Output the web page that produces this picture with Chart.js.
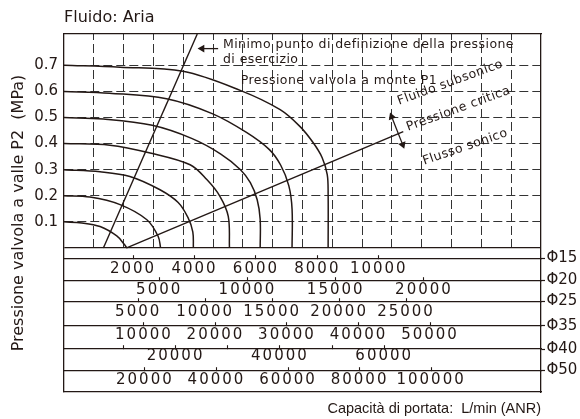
<!DOCTYPE html>
<html>
<head>
<meta charset="utf-8">
<script src="https://cdn.jsdelivr.net/npm/chart.js@4.4.1/dist/chart.umd.min.js"></script>
<style>
  html, body { margin: 0; padding: 0; background: #fff; }
</style>
</head>
<body>
<canvas id="chart" width="580" height="419"></canvas>
<script>
// outlet pressure curves, flow in grid columns (0..16) vs P2 in MPa
const curve01 = [[0, 0.10], [0.6, 0.096], [1.21, 0.082], [1.77, 0.046], [2.02, 0.014], [2.11, 0]];
const curve02 = [[0, 0.20], [0.87, 0.195], [1.88, 0.166], [2.78, 0.108], [3.16, 0.044], [3.24, 0]];
const curve03 = [[0, 0.30], [1.21, 0.292], [2.21, 0.274], [3.22, 0.223], [3.83, 0.174], [4.16, 0.116], [4.32, 0.062], [4.34, 0]];
const curve04 = [[0, 0.40], [1.54, 0.394], [2.89, 0.364], [4.23, 0.319], [4.79, 0.262], [5.23, 0.198], [5.51, 0.121], [5.55, 0]];
const curve05 = [[0, 0.50], [1.32, 0.494], [2.96, 0.470], [4.28, 0.420], [5.26, 0.360], [5.92, 0.300], [6.25, 0.250], [6.48, 0.185], [6.58, 0.110], [6.58, 0]];
const curve06 = [[0, 0.60], [1.53, 0.593], [3.44, 0.572], [4.97, 0.515], [6.12, 0.443], [6.89, 0.377], [7.27, 0.317], [7.54, 0.239], [7.65, 0.149], [7.65, 0]];
const curve07 = [[0, 0.70], [1.88, 0.693], [3.99, 0.677], [5.91, 0.604], [7.25, 0.530], [7.92, 0.465], [8.36, 0.403], [8.66, 0.346], [8.83, 0.281], [8.86, 0.204], [8.86, 0]];

const minimoLine = [[1.32, 0], [4.47, 0.82]];
const sonicLine = [[2.10, 0], [11.38, 0.446]];
const minimoArrow = [[5.17, 0.764], [4.63, 0.764]];
const criticalArrow = [[10.99, 0.503], [11.36, 0.396]];

const yTickValues = [0, 0.1, 0.2, 0.3, 0.4, 0.5, 0.6, 0.7];
const yTickLabels = ['', '0.1', '0.2', '0.3', '0.4', '0.5', '0.6', '0.7'];
const gridColumns = [1, 2, 3, 4, 5, 6, 7, 8, 9, 10, 11, 12, 13, 14, 15];

// port size scales under the plot
const phiNames = ['Φ15', 'Φ20', 'Φ25', 'Φ35', 'Φ40', 'Φ50'];
const phi15Ticks = [2000, 4000, 6000, 8000, 10000];
const phi20Ticks = [5000, 10000, 15000, 20000];
const phi25Ticks = [5000, 10000, 15000, 20000, 25000];
const phi35Ticks = [10000, 20000, 30000, 40000, 50000];
const phi40Ticks = [10000, 20000, 30000, 40000, 50000, 60000];
const phi50Ticks = [20000, 40000, 60000, 80000, 100000];
const phi15Labels = ['2000', '4000', '6000', '8000', '10000'];
const phi20Labels = ['5000', '10000', '15000', '20000'];
const phi25Labels = ['5000', '10000', '15000', '20000', '25000'];
const phi35Labels = ['10000', '20000', '30000', '40000', '50000'];
const phi40Labels = ['', '20000', '', '40000', '', '60000'];
const phi50Labels = ['20000', '40000', '60000', '80000', '100000'];
const phiRanges = [[-248, 15280], [-394, 26632], [-541, 35077], [-1173, 65512], [-1398, 90062], [-2605, 130710]];

const notes = [
  { text: 'Minimo punto di definizione della pressione', x: 5.33, y: 0.766, angle: 0 },
  { text: 'di esercizio', x: 5.33, y: 0.710, angle: 0 },
  { text: 'Pressione valvola a monte P1', x: 5.93, y: 0.630, angle: 0 },
  { text: 'Fluido subsonico', x: 11.24, y: 0.549, angle: -20 },
  { text: 'Pressione critica', x: 11.54, y: 0.449, angle: -20 },
  { text: 'Flusso sonico', x: 12.08, y: 0.319, angle: -19 }
];

// layout
const INK = '#231815';
const Y_MIN = -0.552, Y_MAX = 0.82;
const rowY = [-0.039, -0.125, -0.205, -0.298, -0.3875, -0.4695];
const rowPad = [6, 4.5, 6, 4, 2.5, 4.5];
const phiTicks = [phi15Ticks, phi20Ticks, phi25Ticks, phi35Ticks, phi40Ticks, phi50Ticks];
const phiLabels = [phi15Labels, phi20Labels, phi25Labels, phi35Labels, phi40Labels, phi50Labels];

const pts = arr => arr.map(([x, y]) => ({ x, y }));
const lineSet = (arr, width, tension) => ({
  data: pts(arr), showLine: true, borderColor: INK, borderWidth: width,
  pointRadius: 0, tension: tension, xAxisID: 'x', yAxisID: 'y'
});
const arrowSet = (arr, radius, rotation) => ({
  data: pts(arr), showLine: true, borderColor: INK, borderWidth: 1.3,
  pointStyle: 'triangle', pointRadius: radius, rotation: rotation,
  pointBackgroundColor: INK, pointBorderWidth: 0, tension: 0,
  xAxisID: 'x', yAxisID: 'y'
});

const datasets = [curve01, curve02, curve03, curve04, curve05, curve06, curve07]
  .map(c => lineSet(c, 1.5, 0.35));
datasets.push(lineSet(minimoLine, 1.4, 0));
datasets.push(lineSet(sonicLine, 1.4, 0));
datasets.push(arrowSet(minimoArrow, [0, 4.5], [0, -90]));
datasets.push(arrowSet(criticalArrow, [4.5, 4.5], [-21, 159]));

const scales = {
  x: {
    type: 'linear', position: 'top', min: 0, max: 16,
    afterBuildTicks: s => { s.ticks = gridColumns.map(v => ({ value: v })); },
    afterFit: s => { s.height = 0; },
    ticks: { display: false },
    grid: { drawOnChartArea: false, drawTicks: true, tickLength: -214, tickColor: '#333',
            tickWidth: 1, tickBorderDash: [9, 4] },
    border: { display: true, color: INK, width: 1.3 }
  },
  y: {
    type: 'linear', position: 'left', min: Y_MIN, max: Y_MAX,
    afterBuildTicks: s => { s.ticks = yTickValues.map(v => ({ value: v })); },
    afterFit: s => { s.width = 64; },
    ticks: { padding: 6, color: INK, font: { family: 'DejaVu Sans', size: 15 },
             callback: (v, i) => yTickLabels[i] },
    grid: { drawTicks: false, color: ctx => ctx.tick && ctx.tick.value === 0 ? INK : '#333',
            lineWidth: ctx => ctx.tick && ctx.tick.value === 0 ? 1.3 : 1 },
    border: { display: true, color: INK, width: 1.3,
              dash: ctx => ctx.tick && ctx.tick.value !== 0 ? [9, 4] : [] },
    title: { display: true, text: 'Pressione valvola a valle P2  (MPa)', color: INK,
             font: { family: 'DejaVu Sans', size: 16 }, padding: { top: 9, bottom: 0 } }
  },
  yPhi: {
    type: 'linear', position: 'right', min: Y_MIN, max: Y_MAX,
    afterBuildTicks: s => { s.ticks = rowY.map(v => ({ value: v })); },
    afterFit: s => { s.width = 39; },
    ticks: { padding: 1.5, color: INK, font: { family: 'DejaVu Sans', size: 15 },
             callback: (v, i) => phiNames[i] },
    grid: { drawOnChartArea: false, tickLength: 4, tickColor: INK, tickWidth: 1.2 },
    border: { display: true, color: INK, width: 1.3 }
  },
  xb: {
    type: 'linear', position: 'bottom', min: 0, max: 1,
    ticks: { display: false },
    grid: { display: false, drawTicks: false },
    border: { display: true, color: INK, width: 1.3 },
    title: { display: true, align: 'end', text: 'Capacità di portata:  L/min (ANR)', color: INK,
             font: { family: 'Liberation Sans', size: 14.5 }, padding: { top: 8.3, bottom: 1.3 } }
  }
};

phiNames.forEach((name, k) => {
  scales['phi' + k] = {
    type: 'linear', axis: 'x', position: { y: rowY[k] },
    min: phiRanges[k][0], max: phiRanges[k][1],
    afterBuildTicks: s => { s.ticks = phiTicks[k].map(v => ({ value: v })); },
    ticks: { autoSkip: false, maxRotation: 0, minRotation: 0, padding: rowPad[k], z: 1,
             color: INK, font: { family: 'DejaVu Sans', size: 15 },
             callback: (v, i) => phiLabels[k][i] },
    grid: { drawOnChartArea: false, drawTicks: true, tickLength: -4, tickColor: INK, tickWidth: 1.1 },
    border: { display: true, color: INK, width: 1.2 }
  };
});

// wide digits on the port scales, then the free text notes
const notesPlugin = {
  id: 'notes',
  afterDatasetsDraw(chart) { chart.ctx.letterSpacing = '2px'; },
  afterDraw(chart) {
    const ctx = chart.ctx;
    ctx.letterSpacing = '0px';
    notes.forEach(n => {
      const px = chart.scales.x.getPixelForValue(n.x);
      const py = chart.scales.y.getPixelForValue(n.y);
      ctx.save();
      ctx.translate(px, py);
      ctx.rotate(n.angle * Math.PI / 180);
      ctx.font = '12.5px "DejaVu Sans"';
      ctx.letterSpacing = '0.45px';
      ctx.fillStyle = INK;
      ctx.textBaseline = 'alphabetic';
      ctx.textAlign = 'left';
      ctx.fillText(n.text, 0, 0);
      ctx.restore();
    });
  }
};

new Chart(document.getElementById('chart').getContext('2d'), {
  type: 'scatter',
  data: { datasets: datasets },
  options: {
    responsive: false,
    animation: false,
    layout: { padding: 0 },
    plugins: {
      legend: { display: false },
      tooltip: { enabled: false },
      title: { display: true, text: 'Fluido: Aria', align: 'start', fullSize: false, color: INK,
               font: { family: 'DejaVu Sans', size: 16, weight: 'normal' },
               padding: { top: 8, bottom: 6.8 } }
    },
    scales: scales
  },
  plugins: [notesPlugin]
});
</script>
</body>
</html>
